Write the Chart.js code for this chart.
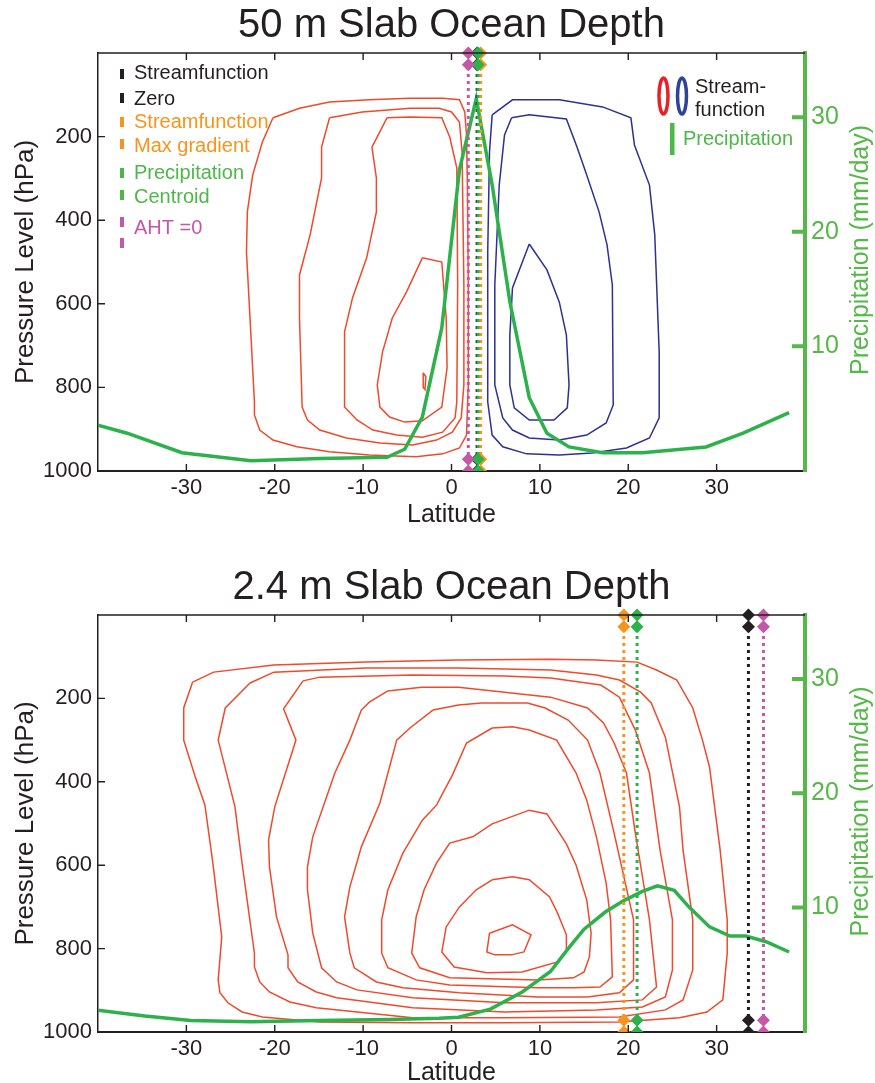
<!DOCTYPE html>
<html>
<head>
<meta charset="utf-8">
<script src="https://cdn.jsdelivr.net/npm/chart.js@4.4.1/dist/chart.umd.min.js"></script>
<style>
  html, body { margin: 0; padding: 0; background: #fff; }
  canvas { display: block; }
</style>
</head>
<body>
<canvas id="topChart" width="875" height="540"></canvas>
<canvas id="bottomChart" width="875" height="543"></canvas>
<script>
// Axis ticks
const latTicks = [-30, -20, -10, 0, 10, 20, 30];
const pressureTicks = [200, 400, 600, 800, 1000];
const precipTicks = [10, 20, 30];

// 50 m slab: streamfunction contours [latitude, pressure hPa]
const topRed1 = [[-20.2,155],[-21.4,213],[-22.5,292],[-23.1,380],[-23.2,476],[-22.8,634],[-22.3,835],[-22.3,866],[-21.7,902],[-20.2,926],[-17.5,942],[-13.8,954],[-9.3,962],[-4.0,966],[-1.0,959],[0.9,945],[1.7,914],[1.9,794],[1.9,555],[1.8,316],[1.7,196],[1.5,141],[0.9,112],[-1.0,108],[-4.7,108],[-9.3,112],[-13.8,117],[-17.2,132],[-20.2,155]];
const topRed2 = [[-13.8,155],[-10.1,141],[-4.7,132],[-1.4,132],[0.0,141],[0.9,165],[1.2,237],[1.4,555],[1.4,794],[1.1,873],[0.1,907],[-1.7,926],[-4.4,938],[-8.1,933],[-11.9,921],[-14.9,902],[-16.3,878],[-16.9,847],[-17.2,634],[-17.2,531],[-16.0,435],[-14.7,299],[-14.7,225],[-13.8,155]];
const topRed3 = [[-7.3,155],[-4.7,153],[-1.1,155],[-0.2,201],[0.6,275],[0.7,555],[0.6,835],[0.4,873],[-1.0,907],[-3.3,919],[-6.2,914],[-8.9,902],[-10.7,878],[-12.1,847],[-12.1,667],[-11.2,586],[-9.6,490],[-8.5,380],[-8.5,299],[-9.0,225],[-7.3,155]];
const topRed4 = [[-3.3,490],[-1.1,500],[-0.6,634],[-0.5,753],[-1.1,847],[-3.3,880],[-5.3,883],[-7.0,871],[-8.1,847],[-8.4,794],[-7.8,715],[-6.7,634],[-5.1,572],[-3.3,490]];
const topRed5 = [[-3.2,765],[-2.9,775],[-3.0,805],[-3.2,800],[-3.2,765]];
const topBlue1 = [[4.6,148],[6.9,112],[12.2,112],[17.1,129],[20.3,155],[20.7,220],[22.4,316],[23.0,435],[23.5,715],[23.5,873],[22.4,921],[19.8,945],[15.9,957],[12.2,962],[8.5,959],[5.8,942],[4.6,914],[4.1,835],[4.1,476],[4.3,237],[4.6,148]];
const topBlue2 = [[6.8,155],[8.8,148],[13.0,158],[14.2,225],[15.3,292],[16.7,380],[17.6,459],[18.2,555],[18.3,842],[17.5,885],[15.3,914],[12.2,926],[8.8,921],[6.9,902],[5.8,873],[4.9,794],[4.9,555],[5.4,316],[6.0,196],[6.8,155]];
const topBlue3 = [[8.8,457],[10.8,519],[12.2,596],[13.0,675],[13.3,794],[13.1,849],[11.6,878],[8.8,878],[7.1,849],[6.6,794],[6.6,675],[6.9,562],[8.8,457]];

// 50 m slab: precipitation (mm/day)
const topPrecipLat = [-40, -36.7, -30.5, -22.7, -14.9, -7.3, -5.3, -3.3, -1.1, 0.9, 2.8, 4.6, 6.6, 8.8, 10.8, 13.3, 17.1, 21.6, 28.8, 33.0, 38.2];
const topPrecip = [3.1, 2.4, 0.7, 0.0, 0.2, 0.3, 1.0, 3.8, 11.6, 25.4, 31.6, 24.1, 13.9, 5.5, 2.4, 1.2, 0.7, 0.7, 1.2, 2.4, 4.2];

// 2.4 m slab: streamfunction contours [latitude, pressure hPa]
const botRed1 = [[-29.3,161],[-30.3,223],[-30.3,300],[-29.0,388],[-27.9,456],[-27.0,595],[-26.0,772],[-26.4,875],[-26.2,906],[-25.3,930],[-23.7,952],[-21.4,964],[-14.9,976],[-4.4,978],[6.0,978],[19.0,976],[25.8,966],[28.9,952],[30.7,923],[31.2,811],[31.2,731],[30.4,564],[29.2,365],[28.4,300],[27.3,223],[25.5,156],[23.2,132],[21.0,113],[16.4,108],[11.2,106],[0.8,108],[-9.7,113],[-20.1,120],[-26.9,137],[-29.3,161]];
const botRed2 = [[-22.8,163],[-25.6,223],[-26.4,300],[-24.5,460],[-23.7,595],[-22.3,811],[-22.3,844],[-21.7,880],[-20.6,904],[-18.3,928],[-15.3,942],[-4.4,966],[6.0,966],[19.0,964],[24.2,947],[26.2,923],[27.3,851],[27.3,731],[26.2,564],[25.8,460],[24.2,293],[22.6,211],[21.4,185],[19.0,156],[16.4,144],[11.2,132],[0.8,127],[-9.7,127],[-20.1,137],[-22.8,163]];
const botRed3 = [[-16.8,158],[-19.0,225],[-17.6,300],[-20.0,460],[-20.7,540],[-20.6,604],[-19.8,724],[-18.5,815],[-18.5,846],[-17.4,880],[-15.3,904],[-13.0,918],[-4.4,942],[6.0,952],[16.4,947],[21.6,940],[24.2,916],[25.0,851],[25.0,731],[23.6,564],[22.4,379],[20.8,276],[19.0,197],[16.9,168],[11.2,151],[6.0,146],[-4.4,144],[-14.9,149],[-16.8,158]];
const botRed4 = [[-7.2,182],[-9.3,209],[-10.2,228],[-11.5,300],[-13.2,379],[-15.7,532],[-16.3,604],[-16.3,659],[-15.7,763],[-14.7,846],[-13.0,880],[-10.7,899],[-4.4,918],[6.0,930],[16.4,930],[21.6,923],[23.2,892],[22.4,731],[20.8,523],[19.8,379],[18.4,307],[17.2,259],[15.4,223],[11.2,197],[0.8,173],[-3.4,173],[-7.2,182]];
const botRed5 = [[-2.1,228],[-4.7,271],[-6.2,300],[-8.1,451],[-10.2,556],[-11.5,652],[-12.1,724],[-11.5,811],[-11.0,846],[-8.5,880],[-5.5,894],[0.9,906],[9.8,916],[15.4,916],[19.0,906],[20.6,875],[20.6,731],[18.4,523],[16.8,379],[15.4,300],[13.2,252],[10.6,223],[8.6,211],[3.4,211],[0.8,216],[-2.1,228]];
const botRed6 = [[4.6,271],[6.9,268],[8.8,276],[11.9,300],[14.1,379],[15.3,444],[16.4,532],[17.5,643],[18.0,731],[18.2,868],[16.8,892],[13.8,894],[9.8,894],[-0.2,887],[-4.0,875],[-7.2,846],[-7.9,811],[-7.9,731],[-7.2,659],[-5.5,571],[-3.3,492],[-1.7,456],[0.1,384],[1.7,307],[4.6,271]];
const botRed7 = [[2.4,532],[4.6,501],[8.8,468],[10.8,477],[13.0,549],[14.1,600],[15.3,683],[15.8,763],[15.6,820],[15.0,856],[13.8,870],[9.8,875],[-0.2,870],[-3.6,846],[-4.5,811],[-4.0,724],[-3.1,659],[-1.7,595],[-0.2,547],[2.4,532]];
const botRed8 = [[4.6,635],[6.9,628],[8.8,635],[11.1,676],[12.0,715],[13.0,767],[13.0,803],[12.0,832],[8.0,856],[4.0,858],[0.3,844],[-1.1,808],[-0.6,748],[0.9,700],[2.8,659],[4.6,635]];
const botRed9 = [[4.3,763],[6.9,743],[9.0,767],[8.2,808],[6.8,815],[4.9,815],[4.0,808],[4.3,763]];

// 2.4 m slab: precipitation (mm/day)
const botPrecipLat = [-40.0, -34.7, -29.5, -22.7, -14.9, -7.0, -1.4, 0.8, 4.4, 8.0, 11.2, 13.2, 15.0, 17.4, 19.5, 21.6, 23.3, 25.2, 26.8, 29.2, 31.5, 33.3, 35.6, 38.2];
const botPrecip = [1.0, 0.5, 0.1, 0.0, 0.1, 0.2, 0.3, 0.4, 1.1, 2.6, 4.4, 6.4, 8.1, 9.6, 10.6, 11.4, 11.9, 11.5, 10.1, 8.3, 7.5, 7.5, 7.0, 6.1];

// Vertical marker lines: AHT = 0, precipitation centroid, streamfunction max gradient, streamfunction zero
const markerLevels = [0, 28, 972, 1000];
const topMarkerLat = [1.9, 3.0, 3.3, 2.9];
const botMarkerLat = [35.3, 21.0, 19.5, 33.6];

// Legend text
const legendLabels = ['Streamfunction', 'Zero', 'Streamfunction', 'Max gradient', 'Precipitation', 'Centroid', 'AHT =0'];

const FONT = '"Liberation Sans", Arial, Helvetica, sans-serif';
const ink = '#231f20';
const red = '#ef4a2b';
const blue = '#2e3192';
const precipGreen = '#2db24b';
const axisGreen = '#55b848';
const orange = '#f7941d';
const magenta = '#c557a7';
const markerColors = [magenta, '#2bb24c', orange, ink];

function contour(points, color) {
    return {
        data: points.map(p => ({ x: p[0], y: p[1] })),
        borderColor: color,
        borderWidth: 1.5,
        pointRadius: 0,
        tension: 0,
        fill: false,
        yAxisID: 'y',
        order: 3
    };
}

function precipLine(lats, values) {
    return {
        data: lats.map((x, i) => ({ x: x, y: values[i] })),
        borderColor: precipGreen,
        borderWidth: 3.5,
        pointRadius: 0,
        tension: 0,
        fill: false,
        yAxisID: 'y2',
        order: 1
    };
}

function markerLine(lat, color) {
    return {
        data: markerLevels.map(p => ({ x: lat, y: p })),
        borderColor: color,
        backgroundColor: color,
        borderWidth: 3,
        borderDash: [3, 4],
        pointStyle: 'rectRot',
        pointRadius: 6.5,
        pointBorderWidth: 0,
        fill: false,
        yAxisID: 'y',
        order: 0,
        clip: { left: 10, top: 10, right: 10, bottom: 0 }
    };
}

// Legend for the top panel
function drawLegend(ctx) {
    ctx.save();
    const colors = [ink, ink, orange, orange, '#4cb848', '#4cb848', magenta];
    const textY = [73, 99, 122, 146, 173, 197, 228];
    const barY = [74, 98, 122, 144, 173, 195, 222, 243];
    const barColors = [ink, ink, orange, orange, '#4cb848', '#4cb848', magenta, magenta];
    barY.forEach((y, i) => {
        ctx.fillStyle = barColors[i];
        ctx.fillRect(120, y - 5, 4, 10);
    });
    ctx.font = '20px ' + FONT;
    ctx.textAlign = 'left';
    ctx.textBaseline = 'middle';
    legendLabels.forEach((t, i) => {
        ctx.fillStyle = colors[i];
        ctx.fillText(t, 134, textY[i]);
    });

    // right-hand legend
    ctx.lineWidth = 3.5;
    ctx.strokeStyle = '#e8202a';
    ctx.beginPath();
    ctx.ellipse(663.5, 96, 4.5, 18, 0, 0, Math.PI * 2);
    ctx.stroke();
    ctx.strokeStyle = '#2e4597';
    ctx.beginPath();
    ctx.ellipse(682, 96, 4.5, 18, 0, 0, Math.PI * 2);
    ctx.stroke();
    ctx.fillStyle = ink;
    ctx.fillText('Stream-', 695, 87);
    ctx.fillText('function', 695, 110);
    ctx.fillStyle = '#4cb848';
    ctx.fillRect(670, 123, 4.5, 32);
    ctx.fillText('Precipitation', 683, 139);
    ctx.restore();
}

// Frame, inward ticks, right axis title and legend
const decor = {
    id: 'decor',
    afterDraw(chart, args, opts) {
        const ctx = chart.ctx;
        const a = chart.chartArea;
        const xs = chart.scales.x, ys = chart.scales.y, y2 = chart.scales.y2;
        ctx.save();
        ctx.strokeStyle = ink;
        ctx.lineWidth = 1.4;
        ctx.beginPath();
        ctx.moveTo(a.left, a.top);
        ctx.lineTo(a.right, a.top);
        xs.ticks.forEach(t => {
            const px = xs.getPixelForValue(t.value);
            ctx.moveTo(px, a.bottom);
            ctx.lineTo(px, a.bottom - 7);
            ctx.moveTo(px, a.top);
            ctx.lineTo(px, a.top + 7);
        });
        ys.ticks.forEach(t => {
            if (t.value >= 1000) return;
            const py = ys.getPixelForValue(t.value);
            ctx.moveTo(a.left, py);
            ctx.lineTo(a.left + 7, py);
        });
        ctx.stroke();

        ctx.strokeStyle = axisGreen;
        ctx.lineWidth = 4;
        ctx.beginPath();
        y2.ticks.forEach(t => {
            const py = y2.getPixelForValue(t.value);
            ctx.moveTo(a.right - 13, py);
            ctx.lineTo(a.right, py);
        });
        ctx.stroke();

        ctx.fillStyle = axisGreen;
        ctx.font = '25px ' + FONT;
        ctx.textAlign = 'center';
        ctx.textBaseline = 'middle';
        ctx.translate(861, (a.top + a.bottom) / 2 - 12);
        ctx.rotate(-Math.PI / 2);
        ctx.fillText('Precipitation (mm/day)', 0, 0);
        ctx.restore();

        if (opts.legend) drawLegend(ctx);
    }
};

function buildScales(isTop) {
    return {
        x: {
            type: 'linear',
            position: 'bottom',
            min: -40,
            max: 40,
            afterBuildTicks: s => { s.ticks = latTicks.map(v => ({ value: v })); },
            afterFit: s => { s.height = isTop ? 69 : 51; },
            grid: { display: false, drawTicks: false },
            border: { display: true, color: ink, width: 2 },
            ticks: { color: ink, font: { size: 22, family: FONT }, padding: 4, maxRotation: 0, autoSkip: false, callback: v => String(v) },
            title: {
                display: true,
                text: 'Latitude',
                color: ink,
                font: { size: 25, family: FONT, lineHeight: isTop ? 1.2 : 0.8 },
                padding: isTop ? { top: 0, bottom: 10 } : 0
            }
        },
        y: {
            type: 'linear',
            position: 'left',
            reverse: true,
            min: 0,
            max: 1000,
            afterBuildTicks: s => { s.ticks = pressureTicks.map(v => ({ value: v })); },
            afterFit: s => { s.width = 98; },
            grid: { display: false, drawTicks: false },
            border: { display: true, color: ink, width: 1.5 },
            ticks: { color: ink, font: { size: 22, family: FONT }, padding: 6, autoSkip: false, callback: v => String(v) },
            title: {
                display: true,
                text: 'Pressure Level (hPa)',
                color: ink,
                font: { size: 26, family: FONT, lineHeight: 1.2 },
                padding: { top: 10, bottom: 0 }
            }
        },
        y2: {
            type: 'linear',
            position: 'right',
            min: -0.9,
            max: 35.6,
            afterBuildTicks: s => { s.ticks = precipTicks.map(v => ({ value: v })); },
            afterFit: s => { s.width = 70; },
            grid: { display: false, drawTicks: false },
            border: { display: true, color: axisGreen, width: 4 },
            ticks: { color: axisGreen, font: { size: 25, family: FONT }, padding: 6, autoSkip: false, callback: v => String(v) }
        }
    };
}

function buildChart(id, titleText, datasets, isTop) {
    return new Chart(document.getElementById(id), {
        type: 'line',
        data: { datasets: datasets },
        options: {
            responsive: false,
            animation: false,
            events: [],
            layout: { padding: { top: isTop ? 0 : 22, left: 0, right: 0, bottom: 0 } },
            plugins: {
                legend: { display: false },
                tooltip: { enabled: false },
                title: {
                    display: true,
                    text: titleText,
                    color: ink,
                    fullSize: false,
                    font: { size: 40, family: FONT, weight: 'normal', lineHeight: 1.2 },
                    padding: { top: 2, bottom: 3 }
                },
                decor: { legend: isTop }
            },
            scales: buildScales(isTop)
        },
        plugins: [decor]
    });
}

const topSets = [
    ...topMarkerLat.map((lat, i) => markerLine(lat, markerColors[i])),
    precipLine(topPrecipLat, topPrecip),
    ...[topRed1, topRed2, topRed3, topRed4, topRed5].map(c => contour(c, red)),
    ...[topBlue1, topBlue2, topBlue3].map(c => contour(c, blue))
];

const botSets = [
    ...botMarkerLat.map((lat, i) => markerLine(lat, markerColors[i])),
    precipLine(botPrecipLat, botPrecip),
    ...[botRed1, botRed2, botRed3, botRed4, botRed5, botRed6, botRed7, botRed8, botRed9].map(c => contour(c, red))
];

buildChart('topChart', '50 m Slab Ocean Depth', topSets, true);
buildChart('bottomChart', '2.4 m Slab Ocean Depth', botSets, false);
</script>
</body>
</html>
